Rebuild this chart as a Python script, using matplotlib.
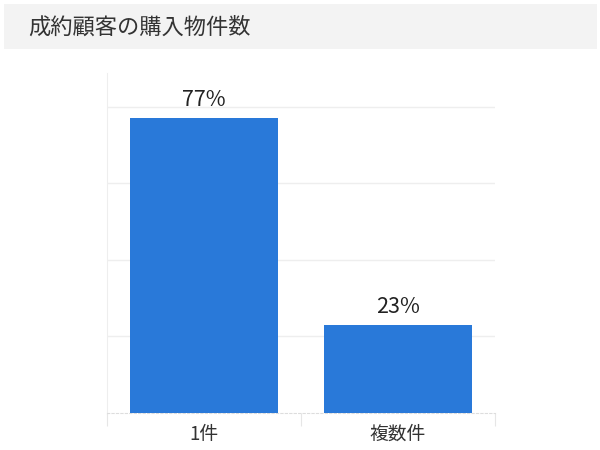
import matplotlib
matplotlib.use('Agg')
import matplotlib.pyplot as plt
from matplotlib.patches import Rectangle

plt.rcParams['font.family'] = ['Noto Sans CJK JP', 'DejaVu Sans']

# data
categories = ['1件', '複数件']
shares = [77, 23]
value_labels = ['77%', '23%']
title = '成約顧客の購入物件数'

fig = plt.figure(figsize=(6, 4.5), dpi=100)
fig.patch.set_facecolor('white')

# title band
fig.patches.append(Rectangle((4 / 600, 1 - 49 / 450), 593 / 600, 45 / 450,
                             transform=fig.transFigure, facecolor='#f3f3f3',
                             edgecolor='none', zorder=0))
fig.text(28 / 600, 1 - 27 / 450, title, fontsize=16, color='#333333',
         va='center', ha='left')

ax = fig.add_axes([107 / 600, 1 - 413 / 450, 388 / 600, 340 / 450])
x = range(len(categories))
bars = ax.bar(x, shares, width=0.76, color='#2979d9', zorder=3)
for b, lab in zip(bars, value_labels):
    ax.text(b.get_x() + b.get_width() / 2, b.get_height() + 1.8, lab,
            ha='center', va='bottom', fontsize=15.5, color='#222222')

ax.set_xlim(-0.5, 1.5)
ax.set_ylim(0, 88.8)
ax.set_yticks([20, 40, 60, 80])
ax.set_yticklabels([])
ax.tick_params(axis='y', length=0)
ax.grid(axis='y', color='#eeeeee', linewidth=1, zorder=0)

ax.set_xticks([-0.5, 0.5, 1.5], minor=False)
ax.set_xticklabels([])
ax.set_xticks([0, 1], minor=True)
ax.set_xticklabels(categories, minor=True, fontsize=13.5, color='#333333')
ax.tick_params(axis='x', which='major', length=9, color='#e6e6e6')
ax.tick_params(axis='x', which='minor', length=0, pad=8)

for s in ['top', 'right']:
    ax.spines[s].set_visible(False)
ax.spines['left'].set_color('#eeeeee')
ax.spines['bottom'].set_color('#dddddd')
ax.spines['bottom'].set_linestyle((0, (2, 2)))

fig.savefig('out.png', dpi=100)
